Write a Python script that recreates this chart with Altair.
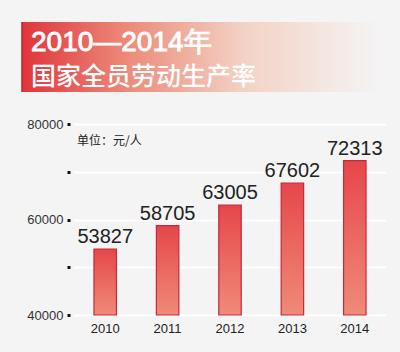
import altair as alt
import pandas as pd

years = ["2010", "2011", "2012", "2013", "2014"]
values = [53827, 58705, 63005, 67602, 72313]
y_ticks = [40000, 50000, 60000, 70000, 80000]
title_line1 = "2010—2014年"
title_line2 = "国家全员劳动生产率"
unit_text = "单位：元/人"

df = pd.DataFrame({"year": years, "value": values})
one = pd.DataFrame({"k": [0]})

W, H = 312, 191
PL, PT = 74, 124

x = alt.X("year:N", sort=years, title=None,
          scale=alt.Scale(paddingInner=0.64, paddingOuter=0.32),
          axis=alt.Axis(labelAngle=0, ticks=False, domain=False, grid=False,
                        labelFont="Liberation Sans", labelFontSize=13,
                        labelColor="#222222", labelPadding=7))
y = alt.Y("value:Q", title=None,
          scale=alt.Scale(domain=[40000, 80000], nice=False, zero=False),
          axis=alt.Axis(values=y_ticks, domain=False, grid=True,
                        gridColor="#ffffff", gridWidth=2,
                        ticks=True, tickSize=3, tickWidth=3, tickColor="#111111",
                        offset=4,
                        labelExpr="datum.value % 20000 == 0 ? datum.value : ''",
                        labelFont="Liberation Sans", labelFontSize=13,
                        labelColor="#333333", labelPadding=4))

bar_fill = alt.Gradient(
    gradient="linear",
    stops=[alt.GradientStop(color="#e6474a", offset=0),
           alt.GradientStop(color="#f08a78", offset=1)],
    x1=0, x2=0, y1=0, y2=1)

bars = alt.Chart(df).mark_bar(fill=bar_fill, stroke="#c42a3a", strokeWidth=1.2).encode(
    x=x, y=y, y2=alt.datum(40000))

labels = alt.Chart(df).mark_text(font="Liberation Sans", fontSize=20, color="#222222",
                                 baseline="alphabetic", dy=-6).encode(
    x=alt.X("year:N", sort=years), y="value:Q", text="value:Q")

banner_fill = alt.Gradient(
    gradient="linear",
    stops=[alt.GradientStop(color="#e0353b", offset=0),
           alt.GradientStop(color="#ec8c7a", offset=0.3),
           alt.GradientStop(color="#f3d2c6", offset=0.62),
           alt.GradientStop(color="#f4f4f4", offset=1)],
    x1=0, x2=1, y1=0, y2=0)

banner = alt.Chart(one).mark_rect(fill=banner_fill).encode(
    x=alt.value(22 - PL), x2=alt.value(380 - PL),
    y=alt.value(22 - PT), y2=alt.value(92 - PT))

banner_edge = alt.Chart(one).mark_rule(color="#c8202a", strokeWidth=1.5).encode(
    x=alt.value(22 - PL), y=alt.value(22 - PT), y2=alt.value(92 - PT))

t1 = alt.Chart(one).mark_text(text=title_line1, font="Liberation Sans", fontSize=28,
                              fontWeight="normal", color="#ffffff", align="left",
                              stroke="#ffffff", strokeWidth=0.9,
                              baseline="alphabetic").encode(
    x=alt.value(31 - PL), y=alt.value(51 - PT))

t2 = alt.Chart(one).mark_text(text=title_line2, font="Noto Sans CJK SC", fontSize=25,
                              fontWeight=500, color="#ffffff", align="left",
                              baseline="alphabetic").encode(
    x=alt.value(31 - PL), y=alt.value(85 - PT))

unit = alt.Chart(one).mark_text(text=unit_text, font="Noto Sans CJK SC", fontSize=12,
                                color="#222222", align="left", baseline="middle").encode(
    x=alt.value(3), y=alt.value(17))

chart = alt.layer(banner, banner_edge, t1, t2, bars, labels, unit).properties(
    width=W, height=H,
    autosize=alt.AutoSizeParams(type="none"),
    padding={"left": PL, "top": PT, "right": 400 - PL - W, "bottom": 352 - PT - H},
    background="#f4f4f4",
).configure_view(stroke=None)

chart.save("out.html", embed_options={"renderer": "svg", "actions": False})
